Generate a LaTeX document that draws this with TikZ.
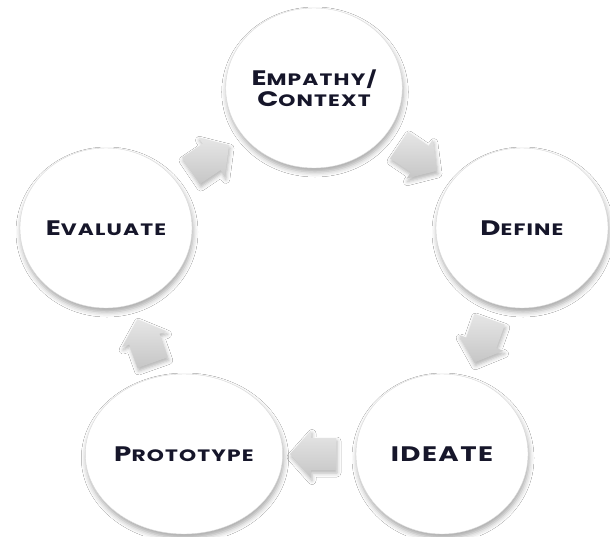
\documentclass[tikz,border=0pt]{standalone}
\usepackage{fontspec}
\usetikzlibrary{shapes.geometric,shadows.blur,calc}
\newfontfamily\labfont[FakeStretch=1.32,LetterSpace=7]{Poppins}
\definecolor{ink}{HTML}{16162A}
\definecolor{rimgray}{HTML}{DADADA}
\definecolor{arrlight}{HTML}{E6E6E6}
\definecolor{arrdark}{HTML}{C6C6C6}
\newcommand\smcap[2]{{\fontsize{21}{24}\selectfont #1}{\fontsize{16.5}{24}\selectfont #2}}
\begin{document}
\begin{tikzpicture}[x=1pt,y=-1pt,
  stage/.style={ellipse, minimum width=172pt, minimum height=160pt, inner sep=0pt,
    fill=white, draw=rimgray, line width=0.4pt,
    blur shadow={shadow xshift=1pt, shadow yshift=-4pt, shadow blur radius=5pt, shadow opacity=35},
    font=\labfont\bfseries, text=ink, align=center},
  blockarrow/.style={draw=none, top color=arrlight, bottom color=arrdark,
    blur shadow={shadow xshift=1pt, shadow yshift=-3pt, shadow blur radius=4pt, shadow opacity=30}}
]
\useasboundingbox[fill=white] (0,0) rectangle (610,536);
\node[stage] (emp) at (314,88) {\smcap{E}{MPATHY/}\\[2pt]\smcap{C}{ONTEXT}};
\node[stage] (def) at (522,228) {\smcap{D}{EFINE}};
\node[stage] (ide) at (442,454) {\fontsize{21}{24}\selectfont IDEATE};
\node[stage] (pro) at (184,454) {\smcap{P}{ROTOTYPE}};
\node[stage] (eva) at (106,228) {\smcap{E}{VALUATE}};
\coordinate (m1) at ($(eva)!0.5!(emp)$);
\coordinate (m2) at ($(emp)!0.5!(def)$);
\coordinate (m3) at ($(def)!0.5!(ide)$);
\coordinate (m4) at ($(ide)!0.5!(pro)$);
\coordinate (m5) at ($(pro)!0.5!(eva)$);
\foreach \m/\a in {m1/34, m2/-34, m3/-109.5, m4/180, m5/109.5}{
  \begin{scope}[shift={(\m)}, rotate=\a]
    \path[blockarrow] (-23,-16) -- (2,-16) -- (2,-23.5) -- (23,0) -- (2,23.5) -- (2,16) -- (-23,16) -- cycle;
  \end{scope}
}
\end{tikzpicture}
\end{document}
